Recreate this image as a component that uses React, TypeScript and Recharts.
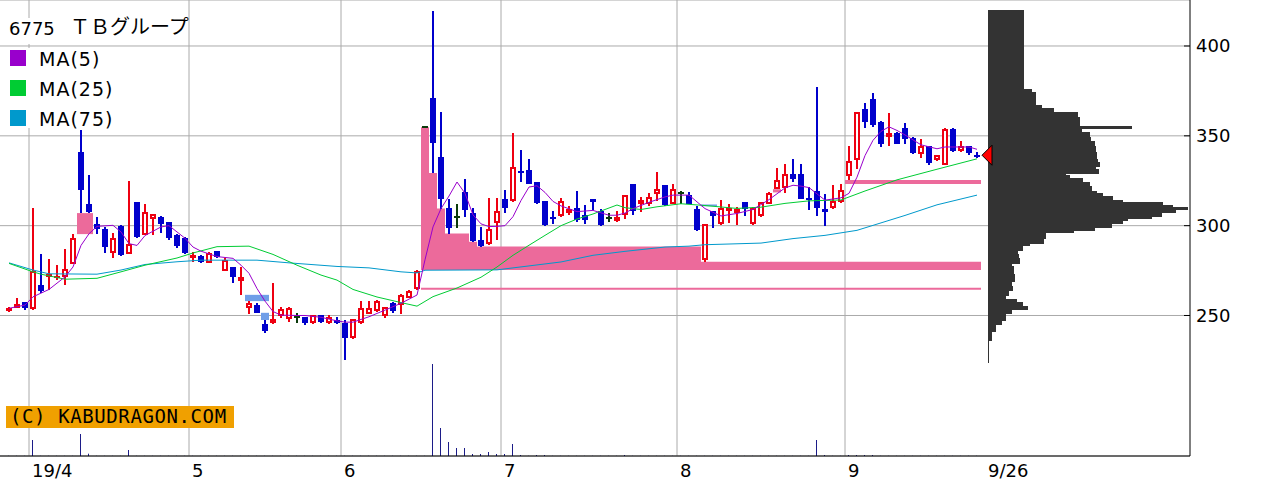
import React from "react";
import {
  ComposedChart,
  BarChart,
  Bar,
  Line,
  Area,
  XAxis,
  YAxis,
  CartesianGrid,
  ReferenceDot,
} from "recharts";

const W = 1280;
const H = 482;
const PRICE_DOMAIN: [number, number] = [171.8, 425.6];
const X_DOMAIN: [number, number] = [-1.125, 147.625];

const UP = "#ee0011";
const DOWN = "#0000cc";
const DOJI = "#0a3a0a";
const PINK = "#ec6a9b";
const LIGHTBLUE = "#6f9ee8";
const GRID = "#aaaaaa";

// daily candles, 2019/3/27 .. 2019/9/26 (index 0 = first visible day)
const opens = [
  252.5, 254, 257.5, 253.5, 267, 271.5, 271, 271.5, 278.5, 341,
  312, 301, 298, 285, 300, 284.5, 313, 295, 303.5, 305,
  302, 295, 293, 282, 283, 279.3, 286, 274.7, 277, 269,
  254, 256, 245, 245.7, 249.5, 248, 249.4, 249, 245.7, 250.3,
  246, 247.5, 246, 237.3, 246, 251, 252.5, 249.5, 257, 255.7,
  260, 264.5, 355, 371, 338, 310, 305, 319, 307, 292,
  289.7, 301.6, 315, 313.6, 330.7, 330.8, 324.3, 313.8, 305, 305.3,
  307.3, 310, 305.7, 315, 308.2, 304, 302.5, 305.7, 323, 312.3,
  312.3, 317.5, 322.4, 312.3, 318.3, 317, 309.2, 280.8, 308, 301.2,
  308.2, 306.8, 312.9, 301.2, 305.4, 312.3, 320.3, 321.2, 329, 329,
  315.4, 319.3, 309.2, 309.9, 313.2, 327.5, 336.4, 364.7, 370.6, 357.7,
  349.3, 351.7, 354.4, 349, 340.1, 344.2, 336.4, 333.6, 354, 341.5,
  344.2, 339.4,
];
const highs = [
  254.5, 260, 257.5, 310, 284, 281.5, 278, 287, 295.3, 353,
  328, 305, 299, 296, 300.5, 325, 313, 312, 306.5, 305.5,
  302, 295.5, 293.5, 285.5, 283.5, 285.5, 286, 282, 277, 277,
  258, 257, 247.5, 268, 254.5, 255, 251.2, 249, 250.5, 250.5,
  250.5, 249, 247.5, 248, 258, 258, 258.5, 255, 257.5, 262,
  264, 275.3, 355.2, 419.5, 363, 315, 312, 326, 310, 299.3,
  315.6, 315.6, 320, 351.7, 342, 337, 324.5, 314, 308, 315.6,
  311.2, 319.4, 311.4, 315, 309, 306.8, 308.2, 317, 323.4, 315.7,
  318.3, 330, 322.5, 323, 319.4, 318.8, 310.8, 300.7, 308.1, 314.2,
  311.8, 310.4, 313, 310.5, 313.3, 318.5, 332.1, 334.5, 336.9, 334.2,
  321.6, 377, 317.9, 322.8, 323.2, 344.2, 363.5, 368, 373.8, 358,
  362.9, 352, 357.2, 349.2, 348, 344.5, 339.6, 354.2, 354.2, 347,
  344.3, 341,
];
const lows = [
  252, 254, 253, 253, 262.5, 264, 270, 267, 278.5, 307,
  307, 295.3, 285, 282, 283, 284.5, 293, 295, 294.7, 296,
  292, 287.5, 284.5, 280, 279, 279, 282, 274.5, 268, 261.5,
  251, 251.5, 240.5, 245.5, 248.5, 246.5, 246, 244.7, 245.5, 246,
  245.5, 245, 225.3, 237, 245, 251, 252, 248.5, 251.5, 251,
  259.5, 264, 354.8, 329.3, 309.5, 295.6, 298.8, 305, 291, 288.4,
  289.5, 292, 306.8, 313, 324.3, 323, 311.8, 300, 300.8, 305,
  305.8, 302, 300.7, 308.6, 300, 302, 302.3, 303.6, 306.2, 307.4,
  311, 313.8, 311, 312, 312.3, 311.8, 297, 279.9, 298.8, 300.3,
  301.6, 300.3, 305.4, 300.3, 305, 311.8, 320.3, 318, 324.3, 314.7,
  308.6, 305.4, 299.9, 309.5, 312.5, 325.4, 331.8, 354.4, 354.9, 343.9,
  344.2, 345.5, 345.7, 340, 337.7, 334, 336, 333.5, 341, 341,
  339.6, 337.7,
];
const closes = [
  254, 256.5, 254, 275, 263.5, 273, 272, 276, 293, 320,
  307.5, 298, 288, 293, 283.5, 290, 293.5, 307.5, 306.5, 301,
  293, 288.5, 285, 283.5, 279.5, 285, 282.5, 281, 271.5, 271.5,
  257, 251.5, 241.5, 248, 253.5, 254, 249.4, 246, 250, 246.2,
  249, 246, 237.3, 247.8, 254, 254, 258, 254.5, 252.7, 261.4,
  263.7, 274.8, 355, 346, 315, 298.5, 305, 308.6, 291.6, 288.5,
  298, 308, 310, 332.6, 329.6, 323.4, 312.6, 300.3, 303.6, 313.8,
  309.5, 303.4, 303.4, 313, 300.3, 304, 305, 316.8, 308.2, 314.2,
  315.7, 320.6, 311.6, 320.6, 318.3, 311.9, 297.5, 300.7, 305.4, 310.1,
  310.1, 309, 309, 310.1, 312.9, 318.2, 325.6, 328.6, 326.2, 315.1,
  314.2, 310.1, 307.7, 313.8, 320, 336, 363, 357.7, 356.2, 345.7,
  351.7, 345.7, 348.5, 340.4, 344.4, 334.6, 339.2, 354, 341.5, 344.2,
  340.5, 339.2,
];
// volume (relative units)
const volumes = [
  2, 2, 2, 160, 2, 2, 2, 2, 2, 220,
  23, 2, 2, 2, 2, 60, 2, 2, 2, 2,
  2, 2, 2, 2, 2, 2, 2, 2, 2, 2,
  2, 2, 2, 2, 2, 2, 2, 2, 2, 2,
  2, 2, 2, 2, 2, 2, 2, 2, 2, 2,
  2, 2, 2, 920, 280, 140, 80, 80, 20, 20,
  40, 20, 20, 120, 10, 2, 10, 10, 2, 2,
  2, 2, 2, 2, 2, 2, 2, 10, 2, 2,
  2, 2, 2, 2, 2, 2, 2, 2, 2, 2,
  2, 2, 2, 2, 2, 2, 2, 2, 2, 2,
  2, 160, 10, 2, 2, 10, 10, 10, 10, 2,
  2, 2, 2, 2, 2, 2, 2, 2, 2, 2,
  2, 2,
];

// moving averages: [day index, value]
const ma5Pts: [number, number][] = [
  [0, 254], [2, 255.8], [3, 260.4], [5, 264.5], [7, 271.5], [8, 277], [9, 289], [10, 295.5],
  [11, 299.6], [13, 300.2], [14, 296.5], [15, 290], [16, 289], [17, 294.5], [19, 299.3], [20, 300],
  [21, 296.5], [22, 293], [23, 288.1], [24, 285.8], [26, 282.8], [28, 281.8], [29, 278], [30, 273.5],
  [31, 265], [32, 258], [33, 252.2], [34, 250.2], [36, 250], [37, 250], [39, 249], [41, 247],
  [42, 246.3], [43, 246.3], [45, 249.3], [47, 253], [49, 256.8], [51, 261.4], [52, 281], [53, 299.3],
  [54, 309.5], [55, 316.5], [56, 324.3], [57, 318], [58, 306], [59, 301], [60, 299.5], [61, 299.6],
  [62, 300], [63, 305], [64, 314], [65, 321.5], [66, 322.2], [67, 318.5], [68, 313.5], [69, 311],
  [71, 307.8], [73, 308.5], [75, 305.8], [76, 305.8], [77, 307], [78, 309.5], [80, 313], [82, 316],
  [83, 317], [85, 317], [87, 309.5], [89, 305.4], [91, 306.8], [93, 309], [95, 314.5], [97, 321],
  [98, 322.5], [99, 322], [100, 321.2], [102, 314.2], [104, 315.5], [105, 318], [106, 327], [107, 339],
  [108, 347.5], [109, 352.5], [110, 355], [111, 353], [112, 350.5], [114, 345], [116, 342.8],
  [117, 343.8], [120, 343.8], [121, 342.5],
];
const ma25Pts: [number, number][] = [
  [0, 279], [3, 274.3], [4, 273], [7, 270.2], [11, 270.7], [14, 274.3], [17, 278], [21, 282],
  [23, 284.8], [26, 288.3], [30, 288.6], [33, 284], [36, 278], [39, 272.5], [41, 269.7], [43, 264.5],
  [46, 260.3], [49, 257.2], [51, 255.2], [53, 260.5], [56, 265.3], [59, 271.3], [61, 277], [63, 283.5],
  [65, 289.1], [67, 294.6], [69, 300], [71, 303.7], [73, 306.5], [76, 311.5], [77, 310], [79, 309],
  [81, 310.5], [84, 312.2], [87, 311.2], [91, 309.6], [94, 310.3], [97, 312.4], [100, 313.8],
  [104, 314.3], [107, 319.3], [111, 325.5], [116, 331.4], [121, 337.2],
];
const ma75Pts: [number, number][] = [
  [0, 279.3], [3, 275.3], [5, 273.2], [11, 273], [14, 275.3], [17, 278.4], [21, 279.9], [24, 280.8],
  [31, 280.8], [35, 279.3], [41, 277.3], [45, 276.5], [49, 274.3], [51, 273.7], [52, 275.2],
  [61, 275.4], [65, 277.6], [69, 279.8], [73, 283.5], [77, 285.7], [82, 288.1], [85, 288.6],
  [87, 289.4], [94, 290.3], [98, 292.8], [102, 294.6], [106, 297.4], [112, 305.7], [116, 311.6],
  [121, 317],
];

// price gaps (窓): start day, lower / upper edge, direction
const gaps = [
  { start: 9, lo: 295.3, hi: 307, up: true },
  { start: 30, lo: 258, hi: 261.5, up: false },
  { start: 32, lo: 247.5, hi: 251.5, up: false },
  { start: 52, lo: 275.3, hi: 355, up: true },
  { start: 52, lo: 264.4, hi: 265.5, up: true },
  { start: 87, lo: 310.8, hi: 311.8, up: false },
  { start: 96, lo: 318.5, hi: 320.3, up: true },
  { start: 105, lo: 323.2, hi: 325.4, up: true },
];

// volume-by-price: [top price, bottom price, volume]
const profileBands: [number, number, number][] = [
  [420, 376, 357], [376, 374, 437], [374, 367, 477], [367, 365, 537], [365, 363, 657],
  [363, 360, 897], [360, 355, 917], [355, 354, 1437], [354, 352, 937], [352, 349, 1020],
  [349, 347, 1030], [347, 344, 1070], [344, 341, 1080], [341, 337, 1090], [337, 335, 1100],
  [335, 333, 1120], [333, 331, 1080], [331, 329, 1110], [329, 328, 780], [328, 326, 820],
  [326, 324, 950], [324, 322, 1020], [322, 319, 1040], [319, 318, 1090], [318, 316, 1150],
  [316, 314, 1247], [314, 313, 1350], [313, 311, 1750], [311, 310, 1850], [310, 309, 2000],
  [309, 307, 1880], [307, 305, 1737], [305, 304, 1637], [304, 303, 1400], [303, 301, 1350],
  [301, 299, 1237], [299, 297, 1070], [297, 296, 860], [296, 293, 580], [293, 290, 560],
  [290, 289, 420], [289, 286, 350], [286, 284, 297], [284, 282, 310], [282, 279, 320],
  [279, 277, 237], [277, 273, 260], [273, 269, 270], [269, 266, 240], [266, 264, 250],
  [264, 261, 213], [261, 259, 180], [259, 257, 293], [257, 255, 350], [255, 253, 397],
  [253, 251, 237], [251, 247, 180], [247, 245, 137], [245, 241, 80], [241, 236, 37],
  [236, 224, 13],
];

const monthTicks = [2.5, 22.5, 41.5, 61.5, 83.5, 104.5, 122];
const monthLabels = ["19/4", "5", "6", "7", "8", "9", "9/26"];
const priceTicks = [250, 300, 350, 400];

const legendItems = [
  { name: "MA(5)", color: "#9900cc" },
  { name: "MA(25)", color: "#00cc33" },
  { name: "MA(75)", color: "#0099cc" },
];

const rows = opens.map((o, i) => ({
  i,
  o,
  h: highs[i],
  l: lows[i],
  c: closes[i],
  v: volumes[i],
}));
const lastClose = closes[closes.length - 1];

const toLine = (pts: [number, number][]) => pts.map(([i, v]) => ({ i, v }));

// gap zone shrinks as later candles trade into it
const zoneData = gaps.map((g) => {
  const pts: { i: number; band: [number, number] }[] = [];
  let edge = g.up ? g.hi : g.lo;
  for (let k = g.start; k < rows.length; k++) {
    edge = g.up ? Math.min(edge, lows[k]) : Math.max(edge, highs[k]);
    const band: [number, number] = g.up ? [g.lo, edge] : [edge, g.hi];
    if (band[1] <= band[0]) break;
    pts.push({ i: k - 0.5, band });
  }
  if (pts.length) {
    const last = pts[pts.length - 1];
    pts.push({ i: last.i + 1, band: last.band });
  }
  return { up: g.up, pts };
});

const profileRows: { p: number; w: number }[] = [];
profileBands.forEach(([top, bottom, w]) => {
  for (let p = bottom; p < top; p++) profileRows.push({ p: p + 0.5, w });
});

const Candle = (props: any) => {
  const { x, y, width, height, payload } = props;
  if (!payload) return null;
  const { o, h, l, c } = payload;
  const top = Math.min(y, y + height);
  const bot = Math.max(y, y + height);
  const cx = Math.round(x + width / 2);
  const span = h - l;
  const py = (v: number) => (span > 0 ? top + ((h - v) / span) * (bot - top) : top);
  const wTop = Math.round(top);
  const wBot = Math.max(Math.round(bot), wTop + 1);

  if (o === c) {
    const yy = Math.round(py(o));
    return (
      <g>
        <rect x={cx - 1} y={wTop} width={2} height={wBot - wTop} fill={DOJI} />
        <rect x={cx - 3} y={yy - 1} width={6} height={2} fill={DOJI} />
      </g>
    );
  }
  const bTop = Math.round(py(Math.max(o, c)));
  const bBot = Math.max(Math.round(py(Math.min(o, c))), bTop + 2);
  const color = c > o ? UP : DOWN;
  const wick = <rect x={cx - 1} y={wTop} width={2} height={wBot - wTop} fill={color} />;
  if (c > o && bBot - bTop > 4) {
    return (
      <g>
        {wick}
        <rect
          x={cx - 2}
          y={bTop + 1}
          width={4}
          height={bBot - bTop - 2}
          fill="#fff"
          stroke={UP}
          strokeWidth={2}
        />
      </g>
    );
  }
  return (
    <g>
      {wick}
      <rect x={cx - 3} y={bTop} width={6} height={bBot - bTop} fill={color} />
    </g>
  );
};

const VolumeBar = (props: any) => {
  const { x, y, width, height } = props;
  if (!height || height <= 0) return null;
  return <rect x={Math.round(x + width / 2) - 1} y={y} width={1} height={height} fill="#1c1c88" />;
};

const ProfileBar = (props: any) => {
  const { x, y, width, height } = props;
  if (!width || width <= 0) return null;
  const top = Math.floor(y);
  const bot = Math.ceil(y + height);
  return (
    <rect
      x={Math.round(x)}
      y={top}
      width={Math.max(1, Math.round(width))}
      height={bot - top}
      fill="#333333"
      shapeRendering="crispEdges"
    />
  );
};

const XTick = (props: any) => {
  const { x, y, payload } = props;
  const idx = monthTicks.indexOf(payload.value);
  return (
    <text x={x + 3} y={y + 20.5} fontFamily="DejaVu Sans" fontSize={18} fill="#000">
      {monthLabels[idx]}
    </text>
  );
};

const YTick = (props: any) => {
  const { x, y, payload } = props;
  return (
    <g>
      <line x1={x - 6} x2={x} y1={y} y2={y} stroke="#000" />
      <text x={x + 6} y={y + 6.5} fontFamily="DejaVu Sans" fontSize={18} fill="#000">
        {payload.value}
      </text>
    </g>
  );
};

const Marker = (props: any) => {
  const { cx, cy } = props;
  return (
    <polygon
      points={`${cx - 6},${cy} ${cx + 4},${cy - 10} ${cx + 4},${cy + 10}`}
      fill="#ff0000"
      stroke="#000"
      strokeWidth={1}
    />
  );
};

export default function App() {
  return (
    <div style={{ position: "absolute", left: 0, top: 0, width: W, height: H, background: "#fff" }}>
      <div style={{ position: "absolute", left: 0, top: 0 }}>
        <ComposedChart width={W} height={H} data={rows} margin={{ top: 0, right: 0, bottom: 0, left: 0 }}>
          <CartesianGrid
            xAxisId="p"
            yAxisId="p"
            stroke={GRID}
            verticalValues={monthTicks.slice(0, 6)}
          />
          <XAxis
            xAxisId="p"
            dataKey="i"
            type="number"
            domain={X_DOMAIN}
            allowDataOverflow
            ticks={monthTicks}
            interval={0}
            tick={<XTick />}
            tickLine={false}
            tickSize={0}
            tickMargin={0}
            axisLine={{ stroke: "#000" }}
            height={26}
          />
          <XAxis xAxisId="v" dataKey="i" type="number" domain={X_DOMAIN} allowDataOverflow hide />
          <YAxis
            yAxisId="p"
            orientation="right"
            domain={PRICE_DOMAIN}
            allowDataOverflow
            ticks={priceTicks}
            interval={0}
            tick={<YTick />}
            tickLine={false}
            tickSize={0}
            tickMargin={0}
            axisLine={{ stroke: "#000" }}
            width={90}
          />
          <YAxis yAxisId="v" domain={[0, 4560]} allowDataOverflow hide />

          {zoneData.map((z, k) => (
            <Area
              key={`zone-${k}`}
              xAxisId="p"
              yAxisId="p"
              data={z.pts}
              dataKey="band"
              type="stepAfter"
              stroke="none"
              fill={z.up ? PINK : LIGHTBLUE}
              fillOpacity={1}
              dot={false}
              activeDot={false}
              isAnimationActive={false}
            />
          ))}

          <Bar
            xAxisId="v"
            yAxisId="v"
            dataKey="v"
            barSize={1}
            shape={<VolumeBar />}
            isAnimationActive={false}
          />
          <Bar
            xAxisId="p"
            yAxisId="p"
            dataKey={(d: any) => [d.l, d.h]}
            barSize={6}
            shape={<Candle />}
            isAnimationActive={false}
          />

          <Line xAxisId="p" yAxisId="p" data={toLine(ma75Pts)} dataKey="v" type="linear"
            stroke="#0099cc" strokeWidth={1} dot={false} activeDot={false} isAnimationActive={false} />
          <Line xAxisId="p" yAxisId="p" data={toLine(ma25Pts)} dataKey="v" type="linear"
            stroke="#00cc33" strokeWidth={1} dot={false} activeDot={false} isAnimationActive={false} />
          <Line xAxisId="p" yAxisId="p" data={toLine(ma5Pts)} dataKey="v" type="linear"
            stroke="#9900cc" strokeWidth={1} dot={false} activeDot={false} isAnimationActive={false} />
        </ComposedChart>
      </div>

      {/* volume-by-price profile on the right */}
      <div style={{ position: "absolute", left: 0, top: 0 }}>
        <BarChart
          width={W}
          height={H}
          data={profileRows}
          layout="vertical"
          margin={{ top: 0, right: 90, bottom: 26, left: 988 }}
        >
          <XAxis type="number" domain={[0, 2020]} allowDataOverflow hide />
          <YAxis type="number" dataKey="p" domain={PRICE_DOMAIN} allowDataOverflow reversed hide />
          <Bar dataKey="w" barSize={2} shape={<ProfileBar />} isAnimationActive={false} />
          <ReferenceDot x={0} y={lastClose} ifOverflow="visible" shape={<Marker />} />
        </BarChart>
      </div>

      <svg width={W} height={H} style={{ position: "absolute", left: 0, top: 0 }}>
        <rect x={4} y={18} width={182} height={26} fill="#fff" />
        <text x={9} y={35} fontFamily="DejaVu Sans" fontSize={18} fill="#000">
          6775
          <tspan x={70} dy={-1} fontFamily="Noto Sans CJK JP" fontSize={20}>
            ＴＢグループ
          </tspan>
        </text>
        <rect x={4} y={48} width={116} height={80} fill="#fff" />
        {legendItems.map((it, k) => (
          <g key={it.name}>
            <rect x={10} y={50 + k * 30} width={16} height={16} fill={it.color} />
            <text
              x={39}
              y={65.5 + k * 30}
              fontFamily="DejaVu Sans"
              fontSize={19}
              letterSpacing={1}
              fill="#000"
            >
              {it.name}
            </text>
          </g>
        ))}
        <rect x={6} y={406} width={228} height={22} fill="#f0a000" />
        <text
          x={10}
          y={423}
          fontFamily="DejaVu Sans Mono"
          fontSize={19}
          letterSpacing={0.6}
          fill="#000"
        >
          (C) KABUDRAGON.COM
        </text>
      </svg>
    </div>
  );
}
